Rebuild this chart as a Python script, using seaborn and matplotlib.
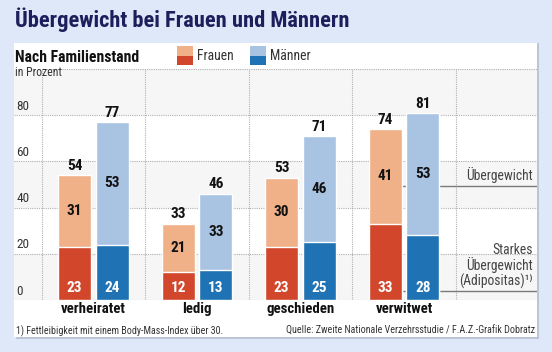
import matplotlib
matplotlib.use('Agg')
import matplotlib.pyplot as plt
from matplotlib.patches import Rectangle
import pandas as pd
import seaborn as sns

sns.set_style('white')
plt.rcParams['font.family'] = ['Roboto Condensed', 'Liberation Sans Narrow', 'Roboto', 'DejaVu Sans']

## Daten (in Prozent)
stand = ['verheiratet', 'ledig', 'geschieden', 'verwitwet']
frauen_gesamt = [54, 33, 53, 74]
frauen_adipositas = [23, 12, 23, 33]
maenner_gesamt = [77, 46, 71, 81]
maenner_adipositas = [24, 13, 25, 28]
y_ticks = [0, 20, 40, 60, 80]

## Farben
hell = {'Frauen': '#f0b189', 'Männer': '#a9c3e3'}
dunkel = {'Frauen': '#d2462b', 'Männer': '#1f72b3'}
bg = '#dfe8f8'
W, H = 552, 352

df = pd.DataFrame({
    'stand': stand * 2,
    'geschlecht': ['Frauen'] * 4 + ['Männer'] * 4,
    'gesamt': frauen_gesamt + maenner_gesamt,
    'adipositas': frauen_adipositas + maenner_adipositas,
})


def fx(x):
    return x / W


def fy(y):
    return 1 - y / H


fig = plt.figure(figsize=(W / 100, H / 100), dpi=100)
fig.patch.set_facecolor(bg)

# weisses Panel mit Schatten
fig.add_artist(Rectangle((fx(16), fy(339)), fx(523), 296 / H, transform=fig.transFigure,
                         facecolor='#9aa4b4', alpha=0.5, lw=0, zorder=-6))
fig.add_artist(Rectangle((fx(14), fy(337)), fx(523), 294 / H, transform=fig.transFigure,
                         facecolor='white', lw=0, zorder=-5))

ax = fig.add_axes([fx(14), fy(300), fx(523), 231 / H])
ax.set_facecolor('none')

# Balken: erst Gesamt (hell), dann Adipositas (dunkel)
sns.barplot(data=df, x='stand', y='gesamt', hue='geschlecht', order=stand,
            hue_order=['Frauen', 'Männer'], palette=hell, saturation=1,
            width=0.725, gap=0.12, errorbar=None, legend=False, ax=ax, zorder=2)
sns.barplot(data=df, x='stand', y='adipositas', hue='geschlecht', order=stand,
            hue_order=['Frauen', 'Männer'], palette=dunkel, saturation=1,
            width=0.725, gap=0.12, errorbar=None, legend=False, ax=ax, zorder=2)

ax.set_xlim(-0.768, 4.285)
ax.set_ylim(0, 100)

# Hintergrundbaender und Gitter
for lo in [0, 40, 80]:
    ax.axhspan(lo, lo + 20, color='#f6f6f6', lw=0, zorder=-2)
for v in y_ticks:
    ax.axhline(v, color='#b0b0b0', lw=0.8, ls=(0, (1, 1)), zorder=0)
    ax.text(0.004, v + 1.0, str(v), transform=ax.get_yaxis_transform(),
            fontsize=9.5, color='#333333', va='bottom', ha='left')
ax.hlines(100, -0.5, 4.285, color='#b0b0b0', lw=0.8, ls=(0, (1, 1)), zorder=0)
ax.vlines([-0.5, 0.5, 1.5, 2.5, 3.5], 0, 100, color='#b0b0b0', lw=0.8,
          ls=(0, (1, 1)), zorder=0)

# Beschriftungen der Balken
gesamt = {'Frauen': frauen_gesamt, 'Männer': maenner_gesamt}
adip = {'Frauen': frauen_adipositas, 'Männer': maenner_adipositas}
for cont, g in zip(ax.containers[:2], ['Frauen', 'Männer']):
    for bar, tot, ad in zip(cont, gesamt[g], adip[g]):
        xc = bar.get_x() + bar.get_width() / 2
        ax.text(xc, tot + 1.0, str(tot), ha='center', va='bottom',
                fontsize=11, fontweight='bold', color='#111111')
        ax.text(xc, (tot + ad) / 2, str(tot - ad), ha='center', va='center',
                fontsize=11, fontweight='bold', color='#111111')
        ax.text(xc, 5.4, str(ad), ha='center', va='center',
                fontsize=11, fontweight='bold', color='white')

# Hinweislinien rechts
ax.hlines([49.3, 3.9], 2.95, 4.285, color='#7a7a7a', lw=1, zorder=1)
ax.text(4.245, 50.5, 'Übergewicht', ha='right', va='bottom', fontsize=9.8,
        color='#444444')
ax.text(4.245, 4.9, 'Starkes\nÜbergewicht\n(Adipositas)¹⁾', ha='right',
        va='bottom', multialignment='right', fontsize=9.8, color='#444444',
        linespacing=1.0)

# Achsen
ax.set_xticks(range(len(stand)))
ax.set_xticklabels(stand, fontsize=10.7, fontweight='bold', color='#111111')
ax.tick_params(axis='x', length=0, pad=1.5)
ax.set_yticks([])
ax.set_xlabel('')
ax.set_ylabel('')
sns.despine(ax=ax, left=True, bottom=True)

# Titel und Legende
fig.text(fx(15), fy(20), 'Übergewicht bei Frauen und Männern', fontsize=16.2,
         fontweight='bold', color='#1c1f5c', va='center')
fig.text(fx(15), fy(57), 'Nach Familienstand', fontsize=11.3, fontweight='bold',
         color='#111111', va='center')
fig.text(fx(15), fy(73), 'in Prozent', fontsize=8.5, color='#333333', va='center')

for x0, g in [(177, 'Frauen'), (250, 'Männer')]:
    fig.add_artist(Rectangle((fx(x0), fy(56)), fx(16), 10 / H, transform=fig.transFigure,
                             facecolor=hell[g], lw=0))
    fig.add_artist(Rectangle((fx(x0), fy(65)), fx(16), 9 / H, transform=fig.transFigure,
                             facecolor=dunkel[g], lw=0))
    fig.text(fx(x0 + 20), fy(56), g, fontsize=9.8, color='#333333', va='center')

# Fussnote und Quelle
fig.text(fx(16), fy(331), '1) Fettleibigkeit mit einem Body-Mass-Index über 30.',
         fontsize=7.2, color='#333333', va='center')
fig.text(fx(535), fy(331), 'Quelle: Zweite Nationale Verzehrsstudie / F.A.Z.-Grafik Dobratz',
         fontsize=7.2, color='#333333', va='center', ha='right')

fig.savefig('out.png', dpi=100, facecolor=bg)
